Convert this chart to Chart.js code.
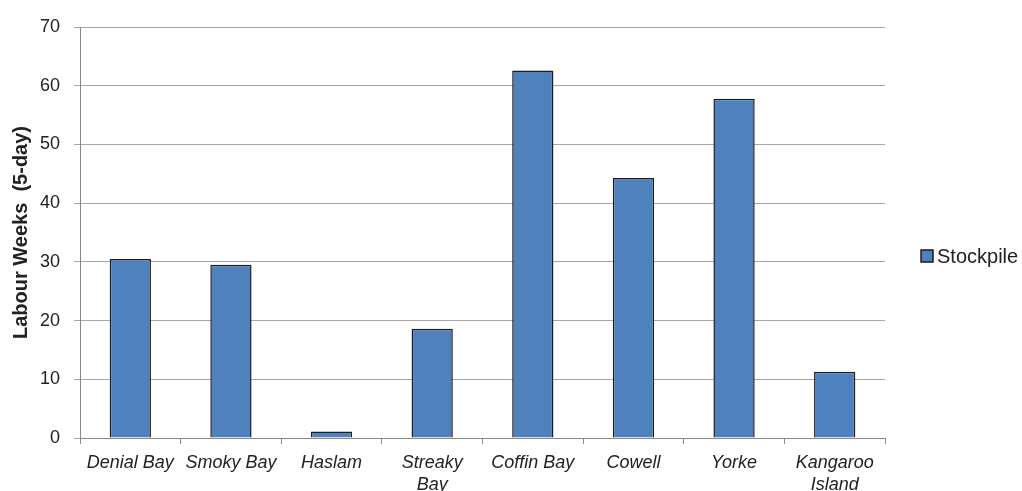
<!DOCTYPE html>
<html>
<head>
<meta charset="utf-8">
<script src="https://cdn.jsdelivr.net/npm/chart.js@4"></script>
<style>
html,body{margin:0;padding:0;background:#fff;}
#wrap{width:1022px;height:491px;position:relative;}
</style>
</head>
<body>
<div id="wrap"><canvas id="c" width="1022" height="491"></canvas></div>
<script>
const categories = ["Denial Bay", "Smoky Bay", "Haslam", ["Streaky", "Bay"], "Coffin Bay", "Cowell", "Yorke", ["Kangaroo", "Island"]];
const stockpile = [30.5, 29.5, 1.1, 18.6, 62.6, 44.3, 57.8, 11.3];
const seriesName = "Stockpile";
const yTitle = "Labour Weeks  (5-day)";
const yMin = 0, yMax = 70, yStep = 10;

const FONT = "'Liberation Sans', Arial, sans-serif";
const TEXT = "#222";

const legendPlugin = {
  id: 'customLegend',
  afterDraw(chart) {
    const ctx = chart.ctx;
    const ds = chart.data.datasets[0];
    const cy = 256;
    const bx = 921, size = 12;
    ctx.save();
    ctx.fillStyle = ds.backgroundColor;
    ctx.fillRect(bx, cy - size / 2, size, size);
    ctx.strokeStyle = ds.borderColor;
    ctx.lineWidth = 1.5;
    ctx.strokeRect(bx, cy - size / 2, size, size);
    ctx.fillStyle = TEXT;
    ctx.font = "20px " + FONT;
    ctx.textBaseline = 'middle';
    ctx.textAlign = 'left';
    ctx.fillText(ds.label, 937, cy + 1);
    ctx.restore();
  }
};

new Chart(document.getElementById('c'), {
  type: 'bar',
  data: {
    labels: categories,
    datasets: [{
      label: seriesName,
      data: stockpile,
      backgroundColor: '#4f81bd',
      borderColor: '#1c1c1c',
      borderWidth: 1.5,
      categoryPercentage: 1,
      barPercentage: 0.41
    }]
  },
  options: {
    responsive: false,
    animation: false,
    events: [],
    layout: { padding: { top: 27, right: 137, bottom: 0, left: 0 } },
    plugins: { legend: { display: false }, tooltip: { enabled: false } },
    scales: {
      x: {
        offset: true,
        grid: { display: true, drawOnChartArea: false, drawTicks: true, tickLength: 6, color: '#888', offset: true },
        border: { display: true, color: '#888', width: 1 },
        ticks: { color: TEXT, font: { family: FONT, size: 18, style: 'italic', lineHeight: 1.22 }, padding: 8, maxRotation: 0, autoSkip: false },
        afterFit(scale) { scale.height = 53; }
      },
      y: {
        min: yMin, max: yMax,
        ticks: { stepSize: yStep, color: TEXT, font: { family: FONT, size: 18 }, padding: 14 },
        grid: { color: '#a6a6a6', lineWidth: 1, tickLength: 6, drawTicks: true },
        border: { display: true, color: '#888', width: 1 },
        title: { display: true, text: yTitle, color: TEXT, font: { family: FONT, size: 20, weight: 'bold' }, padding: { top: 9, bottom: 0 } },
        afterFit(scale) { scale.width = 80; }
      }
    }
  },
  plugins: [legendPlugin]
});
</script>
</body>
</html>
